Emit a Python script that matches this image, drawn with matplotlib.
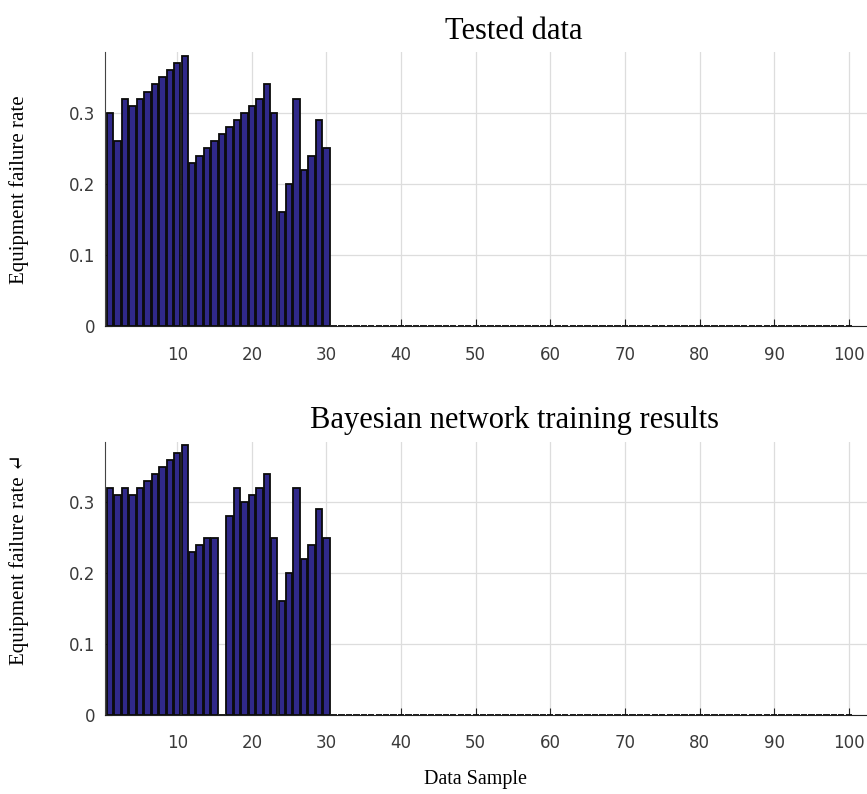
import numpy as np
import matplotlib.pyplot as plt

# failure rate per data sample, samples 31..100 are empty
tested = [0.30, 0.26, 0.32, 0.31, 0.32, 0.33, 0.34, 0.35, 0.36, 0.37,
          0.38, 0.23, 0.24, 0.25, 0.26, 0.27, 0.28, 0.29, 0.30, 0.31,
          0.32, 0.34, 0.30, 0.16, 0.20, 0.32, 0.22, 0.24, 0.29, 0.25]
trained = [0.32, 0.31, 0.32, 0.31, 0.32, 0.33, 0.34, 0.35, 0.36, 0.37,
           0.38, 0.23, 0.24, 0.25, 0.25, 0.00, 0.28, 0.32, 0.30, 0.31,
           0.32, 0.34, 0.25, 0.16, 0.20, 0.32, 0.22, 0.24, 0.29, 0.25]
n_samples = 100
titles = ["Tested data", "Bayesian network training results"]
ylabels = ["Equipment failure rate", "Equipment failure rate \u21b5"]
xticks = [10, 20, 30, 40, 50, 60, 70, 80, 90, 100]
yticks = [0, 0.1, 0.2, 0.3]

serif = ['Liberation Serif', 'DejaVu Serif']
bar_color = '#30298a'

fig = plt.figure(figsize=(8.67, 7.94), dpi=100)
ax1 = fig.add_axes([0.121, 0.589, 0.944, 0.345])
ax2 = fig.add_axes([0.121, 0.0995, 0.944, 0.344])

x = np.arange(1, n_samples + 1)
for ax, vals, title, ylab, ly in zip([ax1, ax2], [tested, trained], titles, ylabels, [0.5, 0.57]):
    y = np.zeros(n_samples)
    y[:len(vals)] = vals
    ax.bar(x, y, width=0.85, color=bar_color, edgecolor='#0a0a0a', linewidth=1.3, zorder=2)
    ax.set_xlim(0.3, 110)
    ax.set_ylim(0, 0.385)
    ax.set_xticks(xticks)
    ax.set_yticks(yticks)
    ax.set_yticklabels(['0', '0.1', '0.2', '0.3'])
    ax.grid(True, color='#dddddd', linewidth=0.9)
    ax.set_axisbelow(True)
    ax.spines['top'].set_visible(False)
    ax.spines['right'].set_visible(False)
    ax.spines['left'].set_color('#444444')
    ax.spines['bottom'].set_color('#222222')
    ax.tick_params(axis='x', direction='in', length=5, pad=14, labelsize=12,
                   labelcolor='#3a3a3a', color='#222222')
    ax.tick_params(axis='y', direction='in', length=5, pad=7, labelsize=12,
                   labelcolor='#3a3a3a', color='#444444')
    ax.set_title(title, family=serif, fontsize=22, pad=10)
    ax.set_ylabel(ylab, family=serif, fontsize=15)
    ax.yaxis.set_label_coords(-0.093, ly)

ax2.set_xlabel("Data Sample", family=serif, fontsize=14.5)
ax2.xaxis.set_label_coords(0.453, -0.2)

fig.savefig('out.png', dpi=100)
